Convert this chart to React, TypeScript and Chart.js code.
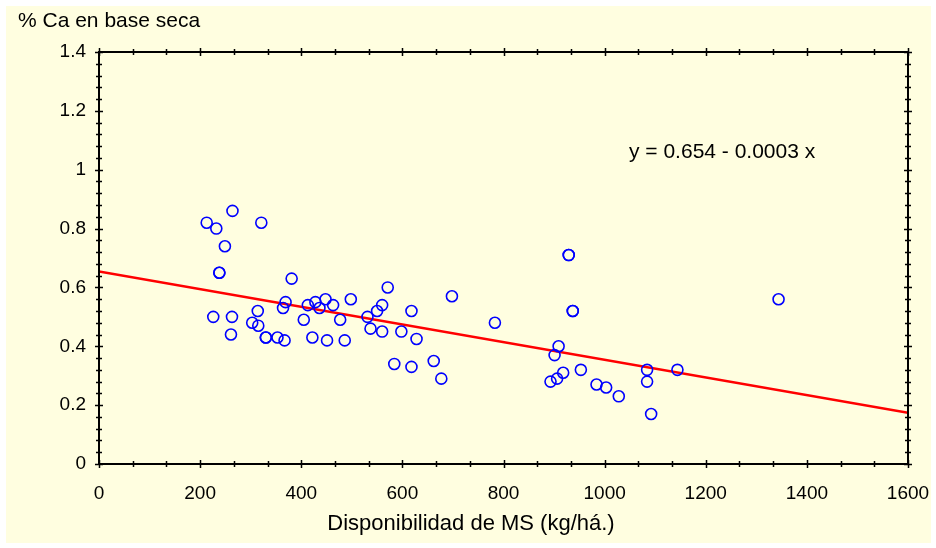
import React, { useEffect, useRef } from "react";
import { Chart, registerables } from "chart.js";

Chart.register(...registerables);

// Data (x: kg/há, y: % Ca)
const xValues = [
  264, 213, 232, 321, 249, 238, 238, 381, 369, 364,
  413, 428, 436, 448, 463, 498, 226, 263, 314, 303,
  315, 261, 330, 330, 353, 367, 405, 422, 451, 477,
  486, 531, 537, 550, 571, 698, 560, 618, 560, 598,
  628, 783, 909, 901, 584, 618, 662, 677, 918, 906,
  893, 929, 929, 937, 937, 953, 984, 1003, 1028, 1084,
  1084, 1144, 1092, 1344,
];
const yValues = [
  0.86, 0.82, 0.8, 0.82, 0.74, 0.65, 0.65, 0.63, 0.55, 0.53,
  0.54, 0.55, 0.53, 0.56, 0.54, 0.56, 0.5, 0.5, 0.52, 0.48,
  0.47, 0.44, 0.43, 0.43, 0.43, 0.42, 0.49, 0.43, 0.42, 0.49,
  0.42, 0.5, 0.46, 0.52, 0.6, 0.57, 0.54, 0.52, 0.45, 0.45,
  0.425, 0.48, 0.4, 0.37, 0.34, 0.33, 0.35, 0.29, 0.31, 0.29,
  0.28, 0.71, 0.71, 0.52, 0.52, 0.32, 0.27, 0.26, 0.23, 0.32,
  0.28, 0.32, 0.17, 0.56,
];

const INTERCEPT = 0.654;
const SLOPE = -0.0003;
const X_MIN = 0;
const X_MAX = 1600;
const Y_MIN = 0;
const Y_MAX = 1.4;
const X_STEP = 200;
const Y_STEP = 0.2;
const X_MINOR_DIV = 3;
const Y_MINOR_DIV = 5;

const Y_TITLE = "% Ca en base seca";
const X_TITLE = "Disponibilidad de MS (kg/há.)";
const EQUATION = "y = 0.654 - 0.0003 x";

const FONT_FAMILY = "'Liberation Sans', Arial, sans-serif";
const BG = "#FFFEE0";

const framePlugin = {
  id: "framePlugin",
  beforeDraw(chart: any) {
    const { ctx, width, height } = chart;
    ctx.save();
    ctx.fillStyle = "#ffffff";
    ctx.fillRect(0, 0, width, height);
    ctx.fillStyle = BG;
    ctx.fillRect(6, 6, 925, 537);
    ctx.restore();
  },
  afterDatasetsDraw(chart: any) {
    const { ctx, chartArea } = chart;
    const xs = chart.scales.x;
    const ys = chart.scales.y;
    const { left, right, top, bottom } = chartArea;
    ctx.save();
    ctx.strokeStyle = "#000";
    ctx.lineWidth = 2;
    ctx.strokeRect(left, top, right - left, bottom - top);
    ctx.lineWidth = 1.5;
    const xMinor = X_STEP / X_MINOR_DIV;
    const nX = Math.round((X_MAX - X_MIN) / xMinor);
    for (let i = 0; i <= nX; i++) {
      const v = X_MIN + i * xMinor;
      const px = Math.round(xs.getPixelForValue(v)) + 0.5;
      const major = i % X_MINOR_DIV === 0;
      const l = major ? 4 : 3;
      ctx.beginPath();
      ctx.moveTo(px, bottom - l);
      ctx.lineTo(px, bottom + l);
      ctx.moveTo(px, top - l);
      ctx.lineTo(px, top + l);
      ctx.stroke();
    }
    const yMinor = Y_STEP / Y_MINOR_DIV;
    const nY = Math.round((Y_MAX - Y_MIN) / yMinor);
    for (let i = 0; i <= nY; i++) {
      const v = Y_MIN + i * yMinor;
      const py = Math.round(ys.getPixelForValue(v)) + 0.5;
      const major = i % Y_MINOR_DIV === 0;
      const l = major ? 4 : 3;
      ctx.beginPath();
      ctx.moveTo(left - l, py);
      ctx.lineTo(left + l, py);
      ctx.moveTo(right - l, py);
      ctx.lineTo(right + l, py);
      ctx.stroke();
    }
    ctx.restore();
  },
  afterDraw(chart: any) {
    const { ctx } = chart;
    ctx.save();
    ctx.fillStyle = "#000";
    ctx.textBaseline = "middle";
    ctx.font = `21px ${FONT_FAMILY}`;
    ctx.textAlign = "left";
    ctx.fillText(Y_TITLE, 18, 21);
    ctx.fillText(EQUATION, 629, 152);
    ctx.font = `22px ${FONT_FAMILY}`;
    ctx.textAlign = "center";
    ctx.fillText(X_TITLE, 471, 524);
    ctx.restore();
  },
};

export default function App() {
  const canvasRef = useRef<HTMLCanvasElement | null>(null);

  useEffect(() => {
    if (!canvasRef.current) return;
    const points = xValues.map((x, i) => ({ x, y: yValues[i] }));
    const lineData = [
      { x: X_MIN, y: INTERCEPT + SLOPE * X_MIN },
      { x: X_MAX, y: INTERCEPT + SLOPE * X_MAX },
    ];
    const chart = new Chart(canvasRef.current, {
      type: "scatter",
      data: {
        datasets: [
          {
            type: "line",
            label: "fit",
            data: lineData,
            borderColor: "#FF0000",
            borderWidth: 2.5,
            pointRadius: 0,
            fill: false,
            order: 2,
          } as any,
          {
            label: "data",
            data: points,
            pointStyle: "circle",
            pointRadius: 5.5,
            pointBorderWidth: 1.6,
            pointBorderColor: "#0000FF",
            pointBackgroundColor: "rgba(0,0,0,0)",
            borderColor: "#0000FF",
            backgroundColor: "rgba(0,0,0,0)",
            order: 1,
          },
        ],
      },
      options: {
        animation: false,
        responsive: false,
        maintainAspectRatio: false,
        layout: { padding: { left: 0, top: 52, right: 28, bottom: 0 } },
        plugins: {
          legend: { display: false },
          tooltip: { enabled: false },
          title: { display: false },
        },
        scales: {
          x: {
            type: "linear",
            min: X_MIN,
            max: X_MAX,
            grid: { display: false, drawTicks: false },
            border: { display: false },
            ticks: {
              stepSize: X_STEP,
              color: "#000",
              font: { family: FONT_FAMILY, size: 19 },
              padding: 18,
              maxRotation: 0,
              autoSkip: false,
              callback: (v: any) => String(Math.round(Number(v))),
            },
            afterFit: (s: any) => {
              s.height = 84;
              s.paddingLeft = 0;
              s.paddingRight = 0;
            },
          },
          y: {
            type: "linear",
            min: Y_MIN,
            max: Y_MAX,
            grid: { display: false, drawTicks: false },
            border: { display: false },
            ticks: {
              stepSize: Y_STEP,
              color: "#000",
              font: { family: FONT_FAMILY, size: 19 },
              padding: 13,
              callback: (v: any) => String(+Number(v).toFixed(1)),
            },
            afterFit: (s: any) => {
              s.width = 99;
              s.paddingTop = 0;
              s.paddingBottom = 0;
            },
          },
        },
      },
      plugins: [framePlugin],
    });
    return () => chart.destroy();
  }, []);

  return (
    <div style={{ position: "fixed", left: 0, top: 0, width: 936, height: 548 }}>
      <canvas ref={canvasRef} width={936} height={548} style={{ display: "block" }} />
    </div>
  );
}
